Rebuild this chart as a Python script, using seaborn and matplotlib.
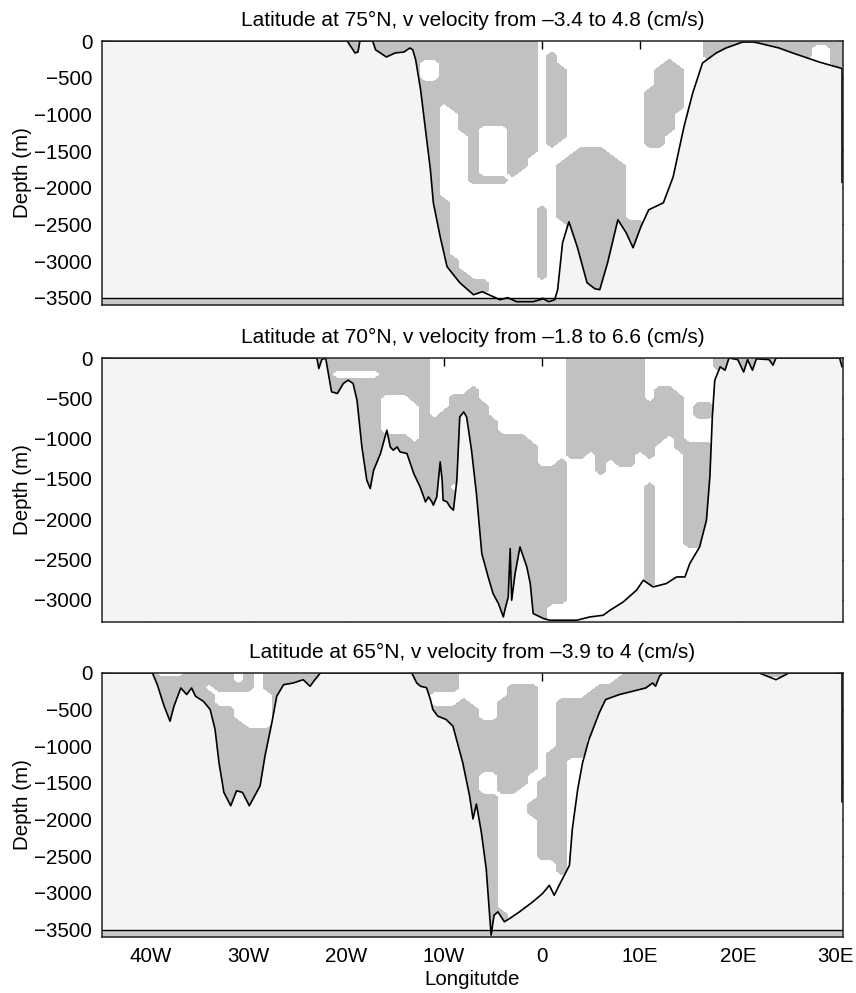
import numpy as np
import pandas as pd
import matplotlib
matplotlib.use("Agg")
import matplotlib.pyplot as plt
import seaborn as sns

sns.set_style("ticks")
plt.rcParams['font.family'] = ['Liberation Sans', 'DejaVu Sans']
plt.rcParams['text.color'] = 'black'
plt.rcParams['axes.labelcolor'] = 'black'

# titles of the three sections
title75 = "Latitude at 75°N, v velocity from –3.4 to 4.8 (cm/s)"
title70 = "Latitude at 70°N, v velocity from –1.8 to 6.6 (cm/s)"
title65 = "Latitude at 65°N, v velocity from –3.9 to 4 (cm/s)"

# bottom topography (longitude in degrees, depth in m)
lon75 = [-46, -19.9, -19.1, -18.8, -18.6, -17.3, -17.0, -15.9, -15.0, -14.1, -13.5, -13.2,
         -12.9, -12.4, -11.9, -11.4, -11.1, -10.4, -9.7, -8.4, -7.0, -6.1, -4.3, -3.5, -2.6,
         -0.9, 0.1, 0.7, 1.3, 1.6, 2.1, 2.75, 3.6, 4.6, 5.4, 5.9, 6.7, 7.75, 8.6, 9.3, 10.1,
         10.9, 12.4, 13.4, 14.5, 15.4, 16.4, 17.8, 18.8, 20.5, 21.6, 22.1, 24.2, 25.6, 28.3,
         30.65, 30.65]
dep75 = [0, 0, -163, -150, 0, 0, -120, -218, -163, -150, -95, -120,
         -260, -667, -1212, -1757, -2206, -2670, -3078, -3296, -3460, -3419, -3528, -3500, -3555,
         -3555, -3514, -3555, -3528, -3391, -2751, -2465, -2806, -3296, -3378, -3391, -3024, -2438,
         -2615, -2819, -2533, -2302, -2206, -1852, -1171, -708, -300, -163, -95, -14, -14, -27,
         -95, -163, -286, -375, -1930]

lon70 = [-46, -23.0, -22.8, -22.5, -22.1, -21.5, -20.9, -20.3, -19.8, -19.3, -18.9, -18.4,
         -17.9, -17.55, -17.2, -16.5, -15.85, -15.5, -15.2, -14.8, -14.5, -13.8, -13.1, -12.45,
         -11.9, -11.6, -11.25, -11.1, -10.75, -10.4, -10.2, -10.1, -9.7, -9.4, -9.05, -8.7, -8.4,
         -8.0, -7.7, -7.2, -6.7, -6.15, -5.5, -5.0, -4.45, -3.95, -3.8, -3.45, -3.25, -3.1, -2.75,
         -2.25, -1.55, -1.2, -0.9, 0.15, 0.8, 3.55, 4.9, 6.25, 6.95, 8.3, 9.65, 10.35, 11.35,
         12.7, 13.75, 14.6, 15.1, 16.1, 16.8, 17.15, 17.4, 17.65, 18.2, 18.7, 19.1, 20.0, 20.6,
         21.0, 21.5, 21.9, 23.2, 23.6, 23.9, 30.4, 30.65]
dep70 = [0, 0, -130, -20, 0, -420, -440, -316, -275, -316, -523, -1103,
         -1516, -1619, -1392, -1185, -896, -1103, -1144, -1103, -1165, -1185, -1433, -1600,
         -1785, -1723, -1785, -1826, -1723, -1289, -1516, -1764, -1785, -1847, -1888, -1516, -731,
         -669, -731, -1144, -1681, -2426, -2716, -2922, -3046, -3212, -3129, -2964, -2364, -3005,
         -2674, -2344, -2592, -2798, -3170, -3232, -3253, -3253, -3212, -3191, -3129, -3026, -2881,
         -2757, -2840, -2798, -2716, -2716, -2550, -2344, -2012, -1475, -731, -275, -110, -151, 0,
         -20, -174, -20, -151, -10, -20, -89, 0, 0, -110]

lon65 = [-46, -39.8, -39.3, -38.6, -38.0, -37.6, -36.9, -36.3, -35.8, -35.4, -34.6, -33.9,
         -33.4, -33.0, -32.5, -31.8, -31.2, -30.6, -29.9, -28.8, -28.3, -27.6, -27.1, -26.4,
         -25.4, -24.4, -23.7, -23.2, -22.65, -13.3, -12.8, -12.4, -11.8, -11.4, -11.15, -10.65,
         -9.8, -9.1, -8.1, -7.4, -7.05, -6.7, -6.2, -5.7, -5.2, -4.9, -4.5, -3.85, -3.3, -2.3,
         -0.95, 0.05, 0.75, 1.25, 1.75, 2.8, 3.1, 3.65, 4.15, 4.8, 5.85, 6.5, 7.9, 9.25, 10.6,
         11.3, 11.6, 12.0, 12.3, 22.2, 23.9, 24.9, 25.2, 30.65, 30.65]
dep65 = [0, 0, -159, -453, -657, -453, -204, -294, -204, -317, -385, -498,
         -769, -1221, -1628, -1810, -1606, -1628, -1810, -1539, -1131, -678, -317, -159,
         -136, -91, -181, -91, 0, 0, -136, -181, -200, -362, -498, -588,
         -634, -724, -1221, -1674, -1990, -1787, -2171, -2669, -3574, -3303, -3257, -3392, -3348,
         -3257, -3121, -3008, -2895, -3031, -2895, -2624, -2126, -1583, -1221, -905, -543, -362,
         -294, -249, -204, -136, -181, -45, 0, 0, -91, -23, 0, 0, -1760]

# sign of the v velocity on a 1 degree x 100 m grid ('#' = grey shading)
# panel 75N: columns are longitudes -20 .. 31, rows are depths 0, -100, ... -3600
grid75 = [
    "##### ##### ##### ##### ..... ..... ..... ..### ##### ##### ##",
    "##### ##### ##### ##### ..... ..... ..... ..### ##### ###.. ##",
    "##### ##### ##### ##### .#... ..... ..... ..### ##### ###.. ##",
    "##### ###.. ##### ##### .#... ..... ...#. ..... ..... ..... ##",
    "##### ###.. ##### ##### .##.. ..... ..### ..... ..... ..... ..",
    "##### ###.. ##### ##### .##.. ..... ..### ..... ..... ..... ..",
    "##### ##### ##### ##### .##.. ..... ..### ..... ..... ..... ..",
    "##### ##### ##### ##### .##.. ..... .#### ..... ..... ..... ..",
    "##### ##### ##### ##### .##.. ..... .#### ..... ..... ..... ..",
    "##### ##### .#### ##### .##.. ..... .#### ..... ..... ..... ..",
    "##### ##### ..### ##### .##.. ..... .###. ..... ..... ..... ..",
    "##### ##### ..### ##### .##.. ..... .###. ..... ..... ..... ..",
    "##### ##### ..##. ..### .##.. ..... .###. ..... ..... ..... ..",
    "##### ##### ...#. ..### .##.. ..... .##.. ..... ..... ..... ..",
    "##### ##### ...#. ..### .#... ..... .##.. ..... ..... ..... ..",
    "##### ##### ...#. ..### ....# ##... ..... ..... ..... ..... ..",
    "##### ##### ...#. ..##. ...## ###.. ..... ..... ..... ..... ..",
    "##### ##### ...#. ..##. ..### ####. ..... ..... ..... ..... ..",
    "##### ##### ...#. ..#.. ..### ####. ..... ..... ..... ..... ..",
    "##### ##### ...## ##... ..### ####. ..... ..... ..... ..... ..",
    "##### ##### ..... ..... ..### ####. ..... ..... ..... ..... ..",
    "##### ##### ..... ..... ..### ####. ..... ..... ..... ..... ..",
    "##### ##### #.... ..... ..### ####. ..... ..... ..... ..... ..",
    "##### ##### #.... ..... #.### ####. ..... ..... ..... ..... ..",
    "##### ##### #.... ..... #.### ####. ..... ..... ..... ..... ..",
    "##### ##### #.... ..... #..## ##### #.... ..... ..... ..... ..",
    "##### ##### #.... ..... #..## ##### #.... ..... ..... ..... ..",
    "##### ##### #.... ..... #..## ##### #.... ..... ..... ..... ..",
    "##### ##### #.... ..... #..## ##### #.... ..... ..... ..... ..",
    "##### ##### #.... ..... #..## ##### #.... ..... ..... ..... ..",
    "##### ##### ##... ..... #..## ##### #.... ..... ..... ..... ..",
    "##### ##### ##... ..... #..## ##### #.... ..... ..... ..... ..",
    "##### ##### ###.. ..... #..## ##### #.... ..... ..... ..... ..",
    "##### ##### ##### ..... ...## ##### #.... ..... ..... ..... ..",
    "##### ##### ##### ..... ...## ##### #.... ..... ..... ..... ..",
    "##### ##### ####. ..... ...## ##### #.... ..... ..... ..... ..",
    "##### ##### ####. ..... ...## ##### #.... ..... ..... ..... ..",
]

# panel 70N: columns are longitudes -23 .. 31, rows are depths 0 .. -3300
grid70 = [
    "##### ##### ##... ..... ..... .#### ####. ..... .#### ##### #####",
    "##### ##### ##... ..... ..... .#### ####. ..... .#### ##### #####",
    "##... ..### ##... ..... ..... .#### ####. ..... ..... ..... .....",
    "##### ##### ##... ..... ..... .#### ####. ..... ..... ..... .....",
    "##### ##### ##... .#... ..... .#### ####. ##... ..... ..... .....",
    "##### ##... ##..# ##... ..... .#### ####. ###.. ..... ..... .....",
    "##### ##... .#..# ###.. ..... .#### ##### ###.# #.... ..... .....",
    "##### ##... .#.## ###.. ..... .#### ##### ###.# #.... ..... .....",
    "##### ##... .#### ####. ..... .#### ##### ###.. ..... ..... .....",
    "##### ##... .#### ####. ..... .#### ##### ###.. ..... ..... .....",
    "##### ##### .#### ##### ##... .#### ##### #.#.. ..... ..... .....",
    "##### ##### ##### ##### ###.. .#### ##### ..### #.... ..... .....",
    "##### ##### ##### ##### ###.. .##.# ###.# ...## #.... ..... .....",
    "##### ##### ##### ##### ###.. #...# .##.. ...## #.... ..... .....",
    "##### ##### ##### ##### ##### #...# ..... ...## #.... ..... .....",
    "##### ##### ##### ##### ##### #.... ..... ...## #.... ..... .....",
    "##### ##### ####. ##### ##### #.... ....# ...## #.... ..... .....",
    "##### ##### ##### ##### ##### #.... ....# ...## #.... ..... .....",
    "##### ##### ##### ##### ##### #.... ....# ...## #.... ..... .....",
    "##### ##### ##### ##### ##### #.... ....# ...## #.... ..... .....",
    "##### ##### ##### ##### ##### #.... ....# ...## #.... ..... .....",
    "##### ##### ##### ##### ##### #.... ....# ...## #.... ..... .....",
    "##### ##### ##### ##### ##### #.... ....# ...## #.... ..... .....",
    "##### ##### ##### ##### ##### #.... ....# ...## #.... ..... .....",
    "##### ##### ##### ##### ##### #.... ....# ..... ..... ..... .....",
    "##### ##### ##### ##### ##### #.... ....# ..... ..... ..... .....",
    "##### ##### ##### ##### ##### #.... ....# ..... ..... ..... .....",
    "##### ##### ##### ##### ##### #.... ....# ..... ..... ..... .....",
    "##### ##### ##### ##### ##### #.... ....# ..... ..... ..... .....",
    "##### ##### ##### ##### ##### #.... ..... ..... ..... ..... .....",
    "##### ##### ##### ##### ##### #.... ..... ..... ..... ..... .....",
    "##### ##### ##### ##### ####. ..... ..... ..... ..... ..... .....",
    "##### ##### ##### ##### ####. ..... ..... ..... ..... ..... .....",
    "##### ##### ##### ##### ####. ..... ..... ..... ..... ..... .....",
]

# panel 65N: columns are longitudes -40 .. 31, rows are depths 0 .. -3600
grid65 = [
    "#...# ####. #.### ####. ..... ..### ##... ..... ..... ....# ###.. ..... ...## #.... ..",
    "##### ####. #.### ####. ..... ..### ##... ..... ..... ...## ###.. ..... ..... ..... ..",
    "##### #.### #.### ####. ..... ..### ##... ..### ..... .#### ###.. ..... ..... ..... ..",
    "##### ##... ...## ####. ..... ..##. ..... ..### ..... ##### ###.. ..... ..... ..... ..",
    "##### ##... ...## ####. ..... ..##. ..#.. .#### ..### ###.. ..... ..... ..... ..... ..",
    "##### ####. ...## ####. ..... ..### ####. .#### ..### ##... ..... ..... ..... ..... ..",
    "##### ####. ...## ####. ..... ..### ####. .#### ..### #.... ..... ..... ..... ..... ..",
    "##### ##### ...## ####. ..... ..### ##### ##### ..### #.... ..... ..... ..... ..... ..",
    "##### ##### ##### ####. ..... ..### ##### ##### ..### #.... ..... ..... ..... ..... ..",
    "##### ##### ##### ####. ..... ..### ##### ##### ..### ..... ..... ..... ..... ..... ..",
    "##### ##### ##### ####. ..... ..### ##### ##### ..### ..... ..... ..... ..... ..... ..",
    "##### ##### ##### ####. ..... ..### ##### ##### .#### ..... ..... ..... ..... ..... ..",
    "##### ##### ##### ####. ..... ..### ##### ##### .##.. ..... ..... ..... ..... ..... ..",
    "##### ##### ##### ####. ..... ..### ##### ##### .##.. ..... ..... ..... ..... ..... ..",
    "##### ##### ##### ####. ..... ..### ####. .###. .##.. ..... ..... ..... ..... ..... ..",
    "##### ##### ##### ####. ..... ..### ####. .###. ###.. ..... ..... ..... ..... ..... ..",
    "##### ##### ##### ####. ..... ..### ####. .##.. ###.. ..... ..... ..... ..... ..... ..",
    "##### ##### ##### ####. ..... ..### ##### #.... ###.. ..... ..... ..... ..... ..... ..",
    "##### ##### ##### ####. ..... ..### ##### #...# ###.. ..... ..... ..... ..... ..... ..",
    "##### ##### ##### ####. ..... ..### ##### #...# ###.. ..... ..... ..... ..... ..... ..",
    "##### ##### ##### ####. ..... ..### ##### #.... ###.. ..... ..... ..... ..... ..... ..",
    "##### ##### ##### ####. ..... ..### ##### #.... ###.. ..... ..... ..... ..... ..... ..",
    "##### ##### ##### ####. ..... ..### ##### #.... ###.. ..... ..... ..... ..... ..... ..",
    "##### ##### ##### ####. ..... ..### ##### #.... ###.. ..... ..... ..... ..... ..... ..",
    "##### ##### ##### ####. ..... ..### ##### #.... ###.. ..... ..... ..... ..... ..... ..",
    "##### ##### ##### ####. ..... ..### ##### #.... ###.. ..... ..... ..... ..... ..... ..",
    "##### ##### ##### ####. ..... ..### ##### #.... ..#.. ..... ..... ..... ..... ..... ..",
    "##### ##### ##### ####. ..... ..### ##### #.... ..#.. ..... ..... ..... ..... ..... ..",
    "##### ##### ##### ####. ..... ..### ##### #.... ..... ..... ..... ..... ..... ..... ..",
    "##### ##### ##### ####. ..... ..### ##### #.... ..... ..... ..... ..... ..... ..... ..",
    "##### ##### ##### ####. ..... ..### ##### #.... ..... ..... ..... ..... ..... ..... ..",
    "##### ##### ##### ####. ..... ..### ##### #.... ..... ..... ..... ..... ..... ..... ..",
    "##### ##### ##### ####. ..... ..### ##### #.... ..... ..... ..... ..... ..... ..... ..",
    "##### ##### ##### ####. ..... ..### ##### ##... ..... ..... ..... ..... ..... ..... ..",
    "##### ##### ##### ####. ..... ..### ##### ##... ..... ..... ..... ..... ..... ..... ..",
    "##### ##### ##### ####. ..... ..### ##### ##... ..... ..... ..... ..... ..... ..... ..",
    "##### ##### ##### ####. ..... ..### ##### ##... ..... ..... ..... ..... ..... ..... ..",
]

xticks = [-40, -30, -20, -10, 0, 10, 20, 30]
xticklabels = ["40W", "30W", "20W", "10W", "0", "10E", "20E", "30E"]
yticks_deep = [0, -500, -1000, -1500, -2000, -2500, -3000, -3500]
yticks_mid = [0, -500, -1000, -1500, -2000, -2500, -3000]

patch_gray = "#c1c1c1"
land_gray = "#f4f4f4"
band_gray = "#c8c8c8"
fs = 14.8

panels = [
    dict(title=title75, lon=lon75, dep=dep75, grid=grid75, lon0=-20, ybot=-3600,
         yticks=yticks_deep, floor=-3500),
    dict(title=title70, lon=lon70, dep=dep70, grid=grid70, lon0=-23, ybot=-3275,
         yticks=yticks_mid, floor=None),
    dict(title=title65, lon=lon65, dep=dep65, grid=grid65, lon0=-40, ybot=-3600,
         yticks=yticks_deep, floor=-3500),
]

fig = plt.figure(figsize=(8.56, 9.93), dpi=100)
left, width, height = 102 / 856, 741 / 856, 264 / 993
bottoms = [1 - 305 / 993, 1 - 622 / 993, 1 - 937 / 993]

for i, p in enumerate(panels):
    ax = fig.add_axes([left, bottoms[i], width, height])
    ax.set_axisbelow(True)

    g = np.array([[c == '#' for c in row.replace(' ', '')] for row in p['grid']], dtype=float)
    gx = p['lon0'] + np.arange(g.shape[1])
    gy = -100.0 * np.arange(g.shape[0])
    ax.contourf(gx, gy, g, levels=[0.5, 1.5], colors=[patch_gray], zorder=1)

    ax.fill_between(p['lon'], p['dep'], p['ybot'], color=land_gray, lw=0, zorder=2)
    if p['floor'] is not None:
        ax.axhspan(p['ybot'], p['floor'], color=band_gray, lw=0, zorder=3)
        ax.axhline(p['floor'], color="black", lw=1.0, zorder=3)

    df = pd.DataFrame({'lon': p['lon'], 'depth': p['dep']})
    sns.lineplot(data=df, x='lon', y='depth', sort=False, estimator=None,
                 color="black", lw=1.2, ax=ax, zorder=4)

    ax.set_xlim(-44.95, 30.75)
    ax.set_ylim(p['ybot'], 0)
    ax.set_yticks(p['yticks'])
    ax.set_xticks(xticks)
    ax.set_xticklabels(xticklabels)
    ax.tick_params(direction='in', length=6, width=1.0, top=True, right=True,
                   labelsize=fs, pad=7, colors="black")
    for s in ax.spines.values():
        s.set_linewidth(1.1)
        s.set_color("#222222")
        s.set_zorder(5)
    ax.set_title(p['title'], fontsize=15, pad=11)
    ax.set_ylabel("Depth (m)", fontsize=fs, labelpad=2)
    if i < 2:
        ax.tick_params(labelbottom=False)
        ax.set_xlabel("")
    else:
        ax.set_xlabel("Longitutde", fontsize=fs, labelpad=3)

fig.savefig("out.png", dpi=100)
